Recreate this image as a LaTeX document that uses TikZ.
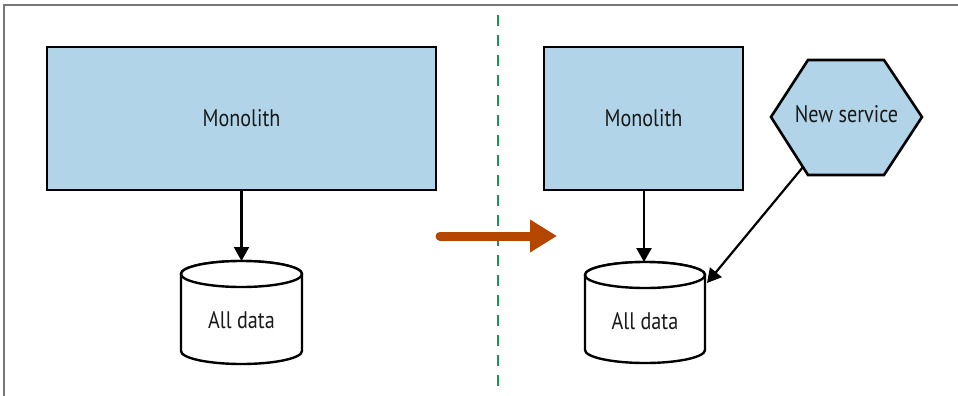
\documentclass[tikz,border=0pt]{standalone}
\usepackage{fontspec}
\setmainfont{PT Sans}[FakeStretch=0.84]
\usetikzlibrary{arrows.meta}
\definecolor{boxblue}{RGB}{177,212,233}
\definecolor{rustc}{RGB}{181,70,0}
\definecolor{dashgreen}{RGB}{22,150,80}
\definecolor{ink}{RGB}{25,25,25}
\definecolor{framegray}{RGB}{120,120,120}
\begin{document}
\begin{tikzpicture}[x=1pt,y=-1pt,
  box/.style={draw=black, line width=2.6pt, fill=boxblue, text=ink, font=\fontsize{24}{27}\selectfont, inner sep=0pt},
  lbl/.style={text=ink, font=\fontsize{24}{27}\selectfont, inner sep=0pt},
  cyl/.style={draw=black, line width=2.4pt, fill=white},
  hexa/.style={draw=black, line width=2.6pt, fill=boxblue, line join=miter},
  conn/.style={draw=black, line width=2.2pt, -{Triangle[length=14pt,width=15pt]}},
  bigarrow/.style={draw=rustc, line width=9pt, line cap=round, -{Triangle[length=27pt,width=31pt]}},
  divider/.style={draw=dashgreen, line width=2.8pt, dash pattern=on 11pt off 9pt}
]
\useasboundingbox (0,0) rectangle (958,396);
% frame
\draw[framegray, line width=1.5pt] (4,396) -- (4,5) -- (958,5);

% divider and transition arrow
\coordinate (divtop) at (498,15);
\coordinate (divbot) at (498,388);
\draw[divider] (divtop) -- (divbot);
\coordinate (arrstart) at (440,236);
\coordinate (arrend) at (557,236);
\draw[bigarrow] (arrstart) -- (arrend);

% left side
\node[box, minimum width=389pt, minimum height=143pt] (mono1) at (241.5,118.5) {Monolith};
\path[cyl] (181,274) -- (181,351) arc[start angle=180,end angle=360,x radius=60.5pt,y radius=13pt] -- (302,274) arc[start angle=0,end angle=180,x radius=60.5pt,y radius=13pt] -- cycle;
\draw[cyl] (241.5,274) ellipse[x radius=60.5pt, y radius=13pt];
\node[lbl] (db1) at (241.5,320) {All data};
\coordinate (db1top) at (241.5,261);
\draw[conn] (mono1.south) -- (db1top);

% right side
\node[box, minimum width=199pt, minimum height=143pt] (mono2) at (643.5,118.5) {Monolith};
\path[cyl] (585,275) -- (585,350) arc[start angle=180,end angle=360,x radius=60pt,y radius=13pt] -- (705,275) arc[start angle=0,end angle=180,x radius=60pt,y radius=13pt] -- cycle;
\draw[cyl] (645,275) ellipse[x radius=60pt, y radius=13pt];
\node[lbl] (db2) at (645,321) {All data};
\coordinate (db2top) at (644,262);
\coordinate (db2side) at (707,283);

\draw[hexa] (771,117) -- (808,60) -- (884,60) -- (922,117) -- (884,175) -- (808,175) -- cycle;
\node[lbl] (newsvc) at (846.5,114) {New service};
\coordinate (hexedge) at (803,167);

\draw[conn] (mono2.south -| db2top) -- (db2top);
\draw[conn] (hexedge) -- (db2side);
\end{tikzpicture}
\end{document}
